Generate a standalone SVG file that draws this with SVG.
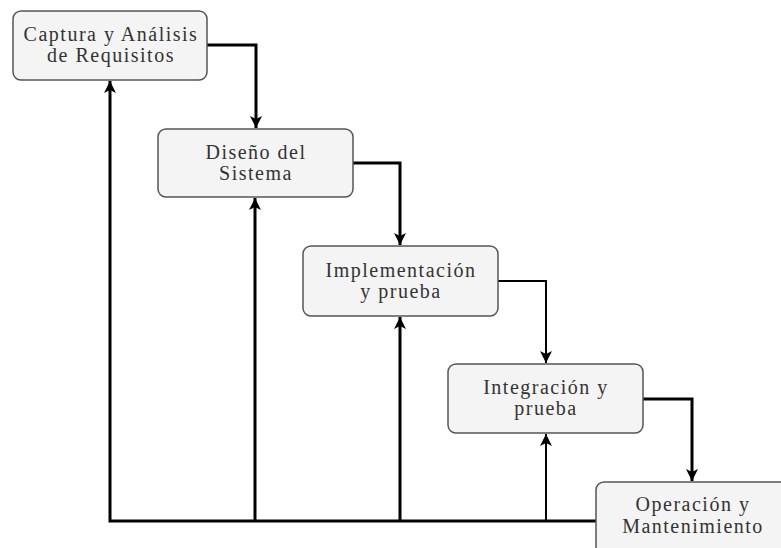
<svg xmlns="http://www.w3.org/2000/svg" width="781" height="548" viewBox="0 0 781 548">
  <style>
    .box { fill: #f4f4f4; stroke: #555; stroke-width: 1.5; }
    .lbl { font-family: "Liberation Serif", "Times New Roman", serif; font-size: 20px; fill: #333; text-anchor: middle; letter-spacing: 1.5px; }
    .wire { fill: none; stroke: #000; stroke-width: 3; }
    .thin { stroke-width: 2; }
  </style>
  <defs>
    <marker id="head" viewBox="0 0 12 18" refX="12" refY="9" markerWidth="12" markerHeight="18" markerUnits="userSpaceOnUse" orient="auto">
      <path d="M0,3 L12,9 L0,15 L3,9 Z" fill="#000"/>
    </marker>
  </defs>
  <rect width="781" height="548" fill="#fff"/>

  <!-- flow connectors: each phase feeds the next, the bottom bus returns to earlier phases -->
  <g id="connectors">
    <path class="wire" d="M207,45 H256 V128" marker-end="url(#head)"/>
    <path class="wire" d="M353,163 H400 V245" marker-end="url(#head)"/>
    <path class="wire thin" d="M498,281 H546 V363" marker-end="url(#head)"/>
    <path class="wire" d="M643,399 H692 V481" marker-end="url(#head)"/>
    <path class="wire" d="M596,521 H110 V81" marker-end="url(#head)"/>
    <path class="wire" d="M255,521 V198" marker-end="url(#head)"/>
    <path class="wire" d="M400,521 V317" marker-end="url(#head)"/>
    <path class="wire thin" d="M546,521 V434" marker-end="url(#head)"/>
  </g>

  <g id="requisitos">
    <rect class="box" x="13" y="11" width="194" height="69" rx="8"/>
    <text class="lbl" x="111" y="41">Captura y Análisis</text>
    <text class="lbl" x="111" y="62">de Requisitos</text>
  </g>
  <g id="diseno">
    <rect class="box" x="158" y="129" width="195" height="68" rx="8"/>
    <text class="lbl" x="256" y="159">Diseño del</text>
    <text class="lbl" x="256" y="180">Sistema</text>
  </g>
  <g id="implementacion">
    <rect class="box" x="303" y="246" width="195" height="70" rx="8"/>
    <text class="lbl" x="401" y="277">Implementación</text>
    <text class="lbl" x="401" y="298">y prueba</text>
  </g>
  <g id="integracion">
    <rect class="box" x="448" y="364" width="195" height="69" rx="8"/>
    <text class="lbl" x="546" y="394">Integración y</text>
    <text class="lbl" x="546" y="415">prueba</text>
  </g>
  <g id="operacion">
    <rect class="box" x="596" y="482" width="195" height="80" rx="8"/>
    <text class="lbl" x="693" y="511">Operación y</text>
    <text class="lbl" x="693" y="533">Mantenimiento</text>
  </g>
</svg>
